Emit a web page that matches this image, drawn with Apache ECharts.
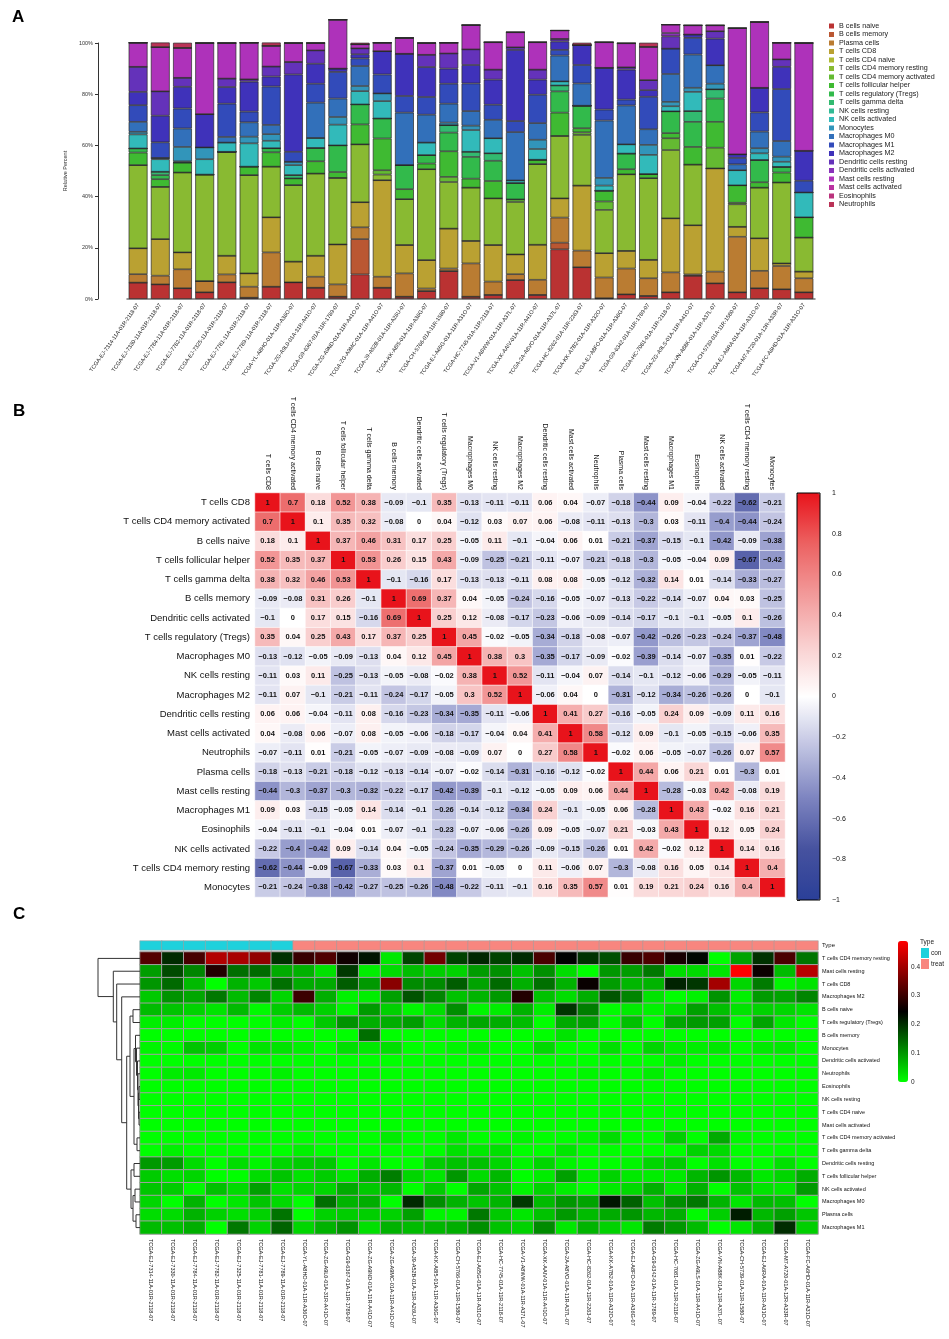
<!DOCTYPE html>
<html>
<head>
<meta charset="utf-8">
<script src="https://cdn.jsdelivr.net/npm/echarts@6/dist/echarts.min.js"></script>
<style>
html,body{margin:0;padding:0;background:#fff}
#main{width:949px;height:1339px}
</style>
</head>
<body>
<div id="main"></div>
<script>
// samples (same order in panel A and panel C)
var sampleIds = ['TCGA-EJ-7314-11A-01R-2118-07','TCGA-EJ-7330-11A-01R-2118-07','TCGA-EJ-7784-11A-01R-2118-07','TCGA-EJ-7782-11A-01R-2118-07','TCGA-EJ-7325-11A-01R-2118-07','TCGA-EJ-7781-11A-01R-2118-07','TCGA-EJ-7789-11A-01R-2118-07','TCGA-YL-A8HO-01A-11R-A36O-07','TCGA-ZG-A9L0-01A-31R-A41O-07','TCGA-G9-6367-01A-11R-1789-07','TCGA-ZG-A9ND-01A-11R-A41O-07','TCGA-ZG-A9MC-01A-11R-A41O-07','TCGA-J9-A52B-01A-11R-A26U-07','TCGA-KK-A8I5-01A-11R-A36G-07','TCGA-CH-5766-01A-11R-1580-07','TCGA-EJ-A65G-01A-11R-A31O-07','TCGA-HC-7745-01A-11R-2118-07','TCGA-V1-A8WW-01A-11R-A37L-07','TCGA-XK-AAIV-01A-11R-A41O-07','TCGA-2A-A8VO-01A-11R-A37L-07','TCGA-HC-8262-01A-11R-2263-07','TCGA-KK-A7B2-01A-11R-A32O-07','TCGA-EJ-A8FO-01A-11R-A36G-07','TCGA-G9-6342-01A-11R-1789-07','TCGA-HC-7081-01A-11R-2118-07','TCGA-ZG-A9LS-01A-11R-A41O-07','TCGA-VN-A88K-01A-11R-A37L-07','TCGA-CH-5739-01A-11R-1580-07','TCGA-EJ-A6RA-01A-11R-A31O-07','TCGA-M7-A720-01A-12R-A33R-07','TCGA-FC-A6HD-01A-11R-A31O-07'];
var sampleGroups = ['con','con','con','con','con','con','con','treat','treat','treat','treat','treat','treat','treat','treat','treat','treat','treat','treat','treat','treat','treat','treat','treat','treat','treat','treat','treat','treat','treat','treat'];
var groupNames = ['con','treat'];

var cellTypes = ['B cells naive','B cells memory','Plasma cells','T cells CD8','T cells CD4 naive','T cells CD4 memory resting','T cells CD4 memory activated','T cells follicular helper','T cells regulatory (Tregs)','T cells gamma delta','NK cells resting','NK cells activated','Monocytes','Macrophages M0','Macrophages M1','Macrophages M2','Dendritic cells resting','Dendritic cells activated','Mast cells resting','Mast cells activated','Eosinophils','Neutrophils'];

// relative percent per sample
var bCellsNaive = [6.4,5.7,4.2,2.6,6.5,0.5,4.8,6.5,4.4,0.9,9.6,4.4,0.9,3.1,10.9,0.9,1.6,7.4,1.6,19.4,12.4,0.3,1.8,1.2,2.6,9.1,6.1,2.6,4.2,3.8,2.6];
var bCellsMemory = [0,0,0,0,0,0,0,0,0,0,13.8,0,0,0,0,0,0,0,0,2.6,0,0,0,0,0,0,0,0,0,0,0];
var plasmaCells = [3.3,3.4,7.4,4.4,3.1,4.3,13.4,0,4.3,4.8,4.6,4.3,9.1,1.0,1.0,13.0,5.2,2.3,5.9,9.8,6.5,8.1,10.1,6.9,7.8,0.5,4.6,21.7,6.8,9.1,5.5];
var tCellsCD8 = [10.1,14.3,6.6,0,7.3,5.2,13.7,8.1,8.2,15.6,9.8,37.7,11.1,11.1,15.6,8.8,14.3,7.7,13.7,7.5,25.4,9.5,6.9,7.2,21.1,19.2,40.3,3.9,12.7,1.0,2.6];
var tCellsCD4Naive = [0,0,0,0,0,0,0,0,0,0,0,0,0,0,0,0,0,0,0,0,0,0,0,0,0,0,0,0,0,0,0];
var tCellsCD4MemResting = [32.5,20.4,31.2,41.6,40.6,38.4,19.8,29.9,32.1,26.0,22.6,2.2,17.9,35.5,18.2,20.8,18.2,20.5,31.5,24.4,19.8,16.9,29.9,31.9,26.7,23.7,0,8.8,19.8,31.6,13.3];
var tCellsCD4MemActivated = [0,0,0,0,0,0,0,0,0,0,0,1.7,0,0,2.0,0,0,1.0,0,0,1.0,3.3,0,0,4.6,0,8.1,0.6,0,0,0];
var tCellsFollicular = [4.9,3.0,3.9,0,0,3.3,5.6,2.6,4.8,2.3,7.8,12.4,3.9,2.2,10.0,3.5,6.8,0,1.7,9.1,1.6,4.2,2.0,1.6,2.0,6.9,10.1,6.8,2.1,3.9,7.9];
var tCellsTregs = [1.6,1.6,0,0,0,0,1.6,0,5.2,10.4,7.8,7.8,9.4,3.3,7.3,8.5,7.9,6.4,0,8.3,8.8,0,6.1,0,8.5,9.8,9.1,0,8.7,2.2,0];
var tCellsGammaDelta = [0,1.3,0,0,0,0,0,1.3,0,0,0,0,0,0,2.9,2.0,2.9,0,0,2.3,0,0,0,0,0,4.2,3.6,0,0,0,0];
var nkCellsResting = [0,0,0,0,0,0,0,0,0,0,0,0,0,0,0,0,0,0,0,0,0,0,0,0,0,0,0,0,0,0,0];
var nkCellsActivated = [5.5,4.9,0.5,6.0,3.6,9.1,2.9,3.9,3.9,8.1,5.2,6.8,0,4.9,0,8.5,5.9,1.0,4.2,1.6,0,2.0,3.6,7.5,2.0,7.5,0,5.9,2.6,2.0,9.7];
var monocytes = [1.0,0.5,5.6,4.6,0,2.6,2.6,1.3,0,3.0,2.0,3.0,0,0,1.0,1.7,0,0,3.6,0,0,3.0,0,3.9,1.7,1.6,2.2,0,2.0,2.0,0];
var macrophagesM0 = [3.9,0,7.2,0,2.2,5.6,3.6,0,13.8,7.2,7.8,0,20.5,10.9,7.4,5.7,7.2,18.9,6.5,10.1,8.7,22.4,15.2,6.1,10.9,13.0,7.2,2.3,6.5,6.1,0];
var macrophagesM1 = [6.5,6.1,7.8,0,13.0,4.2,15.0,3.9,7.4,10.4,3.0,7.4,6.5,6.9,7.8,10.8,5.9,4.3,11.1,2.2,7.2,4.3,2.3,12.7,9.9,6.5,0,2.5,7.5,20.3,4.6];
var macrophagesM2 = [5.2,10.4,8.5,13.0,6.5,11.7,3.9,30.2,7.8,1.3,1.6,9.1,16.5,11.7,5.9,7.2,9.8,27.8,5.9,3.3,7.8,16.3,11.7,2.6,0,1.3,10.4,1.4,9.6,8.7,11.7];
var dcResting = [9.8,9.5,3.5,0,3.3,0.9,3.9,4.9,5.2,0,2.3,0,0,4.8,5.9,6.1,3.9,1.0,3.9,1.0,0,0,0.9,3.9,4.8,0,2.9,0,0,2.9,0];
var dcActivated = [0,0,0,0,0,0,0,0,0,0,0,0,0,0,0,0,0,0,0,0,0,0,0,0,1.3,0,0,0,0,0,0];
var mastResting = [9.4,17.3,11.7,27.8,13.9,14.3,8.1,7.4,2.9,19.1,1.6,3.3,6.2,4.6,4.2,9.5,10.7,5.9,10.7,3.3,0,10.0,9.4,13.0,3.3,3.6,2.3,49.3,25.7,6.5,42.1];
var mastActivated = [0,0,0,0,0,0,0,0,0,0,0,0,0,0,0,0,0,0,0,0,0,0,0,0,0,0,0,0,0,0,0];
var eosinophils = [0,0,0,0,0,0,0,0,0,0,0,0,0,0,0,0,0,0,0,0,0,0,0,0,0,0,0,0,0,0,0];
var neutrophils = [0,1.8,2.0,0,0,0,1.3,0,0,0,0.6,0,0,0,0,0,0,0,0,0,0.9,0,0,1.6,0,0,0,0,0,0,0];

var percentTicks = [0,0.2,0.4,0.6,0.8,1];

// panel B correlation
var corrLabels = ['T cells CD8','T cells CD4 memory activated','B cells naive','T cells follicular helper','T cells gamma delta','B cells memory','Dendritic cells activated','T cells regulatory (Tregs)','Macrophages M0','NK cells resting','Macrophages M2','Dendritic cells resting','Mast cells activated','Neutrophils','Plasma cells','Mast cells resting','Macrophages M1','Eosinophils','NK cells activated','T cells CD4 memory resting','Monocytes'];
var corrMatrix = [
 [1,0.7,0.18,0.52,0.38,-0.09,-0.1,0.35,-0.13,-0.11,-0.11,0.06,0.04,-0.07,-0.18,-0.44,0.09,-0.04,-0.22,-0.62,-0.21],
 [0.7,1,0.1,0.35,0.32,-0.08,0,0.04,-0.12,0.03,0.07,0.06,-0.08,-0.11,-0.13,-0.3,0.03,-0.11,-0.4,-0.44,-0.24],
 [0.18,0.1,1,0.37,0.46,0.31,0.17,0.25,-0.05,0.11,-0.1,-0.04,0.06,0.01,-0.21,-0.37,-0.15,-0.1,-0.42,-0.09,-0.38],
 [0.52,0.35,0.37,1,0.53,0.26,0.15,0.43,-0.09,-0.25,-0.21,-0.11,-0.07,-0.21,-0.18,-0.3,-0.05,-0.04,0.09,-0.67,-0.42],
 [0.38,0.32,0.46,0.53,1,-0.1,-0.16,0.17,-0.13,-0.13,-0.11,0.08,0.08,-0.05,-0.12,-0.32,0.14,0.01,-0.14,-0.33,-0.27],
 [-0.09,-0.08,0.31,0.26,-0.1,1,0.69,0.37,0.04,-0.05,-0.24,-0.16,-0.05,-0.07,-0.13,-0.22,-0.14,-0.07,0.04,0.03,-0.25],
 [-0.1,0,0.17,0.15,-0.16,0.69,1,0.25,0.12,-0.08,-0.17,-0.23,-0.06,-0.09,-0.14,-0.17,-0.1,-0.1,-0.05,0.1,-0.26],
 [0.35,0.04,0.25,0.43,0.17,0.37,0.25,1,0.45,-0.02,-0.05,-0.34,-0.18,-0.08,-0.07,-0.42,-0.26,-0.23,-0.24,-0.37,-0.48],
 [-0.13,-0.12,-0.05,-0.09,-0.13,0.04,0.12,0.45,1,0.38,0.3,-0.35,-0.17,-0.09,-0.02,-0.39,-0.14,-0.07,-0.35,0.01,-0.22],
 [-0.11,0.03,0.11,-0.25,-0.13,-0.05,-0.08,-0.02,0.38,1,0.52,-0.11,-0.04,0.07,-0.14,-0.1,-0.12,-0.06,-0.29,-0.05,-0.11],
 [-0.11,0.07,-0.1,-0.21,-0.11,-0.24,-0.17,-0.05,0.3,0.52,1,-0.06,0.04,0,-0.31,-0.12,-0.34,-0.26,-0.26,0,-0.1],
 [0.06,0.06,-0.04,-0.11,0.08,-0.16,-0.23,-0.34,-0.35,-0.11,-0.06,1,0.41,0.27,-0.16,-0.05,0.24,0.09,-0.09,0.11,0.16],
 [0.04,-0.08,0.06,-0.07,0.08,-0.05,-0.06,-0.18,-0.17,-0.04,0.04,0.41,1,0.58,-0.12,0.09,-0.1,-0.05,-0.15,-0.06,0.35],
 [-0.07,-0.11,0.01,-0.21,-0.05,-0.07,-0.09,-0.08,-0.09,0.07,0,0.27,0.58,1,-0.02,0.06,-0.05,-0.07,-0.26,0.07,0.57],
 [-0.18,-0.13,-0.21,-0.18,-0.12,-0.13,-0.14,-0.07,-0.02,-0.14,-0.31,-0.16,-0.12,-0.02,1,0.44,0.06,0.21,0.01,-0.3,0.01],
 [-0.44,-0.3,-0.37,-0.3,-0.32,-0.22,-0.17,-0.42,-0.39,-0.1,-0.12,-0.05,0.09,0.06,0.44,1,-0.28,-0.03,0.42,-0.08,0.19],
 [0.09,0.03,-0.15,-0.05,0.14,-0.14,-0.1,-0.26,-0.14,-0.12,-0.34,0.24,-0.1,-0.05,0.06,-0.28,1,0.43,-0.02,0.16,0.21],
 [-0.04,-0.11,-0.1,-0.04,0.01,-0.07,-0.1,-0.23,-0.07,-0.06,-0.26,0.09,-0.05,-0.07,0.21,-0.03,0.43,1,0.12,0.05,0.24],
 [-0.22,-0.4,-0.42,0.09,-0.14,0.04,-0.05,-0.24,-0.35,-0.29,-0.26,-0.09,-0.15,-0.26,0.01,0.42,-0.02,0.12,1,0.14,0.16],
 [-0.62,-0.44,-0.09,-0.67,-0.33,0.03,0.1,-0.37,0.01,-0.05,0,0.11,-0.06,0.07,-0.3,-0.08,0.16,0.05,0.14,1,0.4],
 [-0.21,-0.24,-0.38,-0.42,-0.27,-0.25,-0.26,-0.48,-0.22,-0.11,-0.1,0.16,0.35,0.57,0.01,0.19,0.21,0.24,0.16,0.4,1]
];
var corrTicks = [-1,-0.8,-0.6,-0.4,-0.2,0,0.2,0.4,0.6,0.8,1];

// panel C row order and row clustering (hclust style merges, leaf = -row)
var heatRowOrder = ['T cells CD4 memory resting','Mast cells resting','T cells CD8','Macrophages M2','B cells naive','T cells regulatory (Tregs)','B cells memory','Monocytes','Dendritic cells activated','Neutrophils','Eosinophils','NK cells resting','T cells CD4 naive','Mast cells activated','T cells CD4 memory activated','T cells gamma delta','Dendritic cells resting','T cells follicular helper','NK cells activated','Macrophages M0','Plasma cells','Macrophages M1'];
var dendroMerges = [
 [-11,-12,1],[-13,-14,1],[1,2,1.5],[-10,3,2],[-9,4,2.5],[-8,5,3.5],[-7,6,4.5],
 [-15,-16,3],[7,8,6],[-5,-6,7],[10,9,10],
 [-17,-18,6],[-19,-20,5],[-21,-22,4],[13,14,7],[12,15,9],
 [11,16,13.3],[-4,17,18.3],[-3,18,23.3],[-2,19,26.7],[-1,20,42]
];
var heatTicks = [0,0.1,0.2,0.3,0.4];

var fractionTable = [bCellsNaive,bCellsMemory,plasmaCells,tCellsCD8,tCellsCD4Naive,tCellsCD4MemResting,tCellsCD4MemActivated,tCellsFollicular,tCellsTregs,tCellsGammaDelta,nkCellsResting,nkCellsActivated,monocytes,macrophagesM0,macrophagesM1,macrophagesM2,dcResting,dcActivated,mastResting,mastActivated,eosinophils,neutrophils];

function hsvHex(h, s, v) {
	var f = function (n) {
		var k = (n + h / 60) % 6;
		var c = v - v * s * Math.max(0, Math.min(k, 4 - k, 1));
		var x = Math.round(c * 255).toString(16);
		return x.length < 2 ? '0' + x : x;
	};
	return '#' + f(5) + f(3) + f(1);
}
var palette = cellTypes.map(function (n, i) { return hsvHex(i * 360 / 22, 0.73, 0.73); });

function fmtCorr(v) {
	return (v < 0 ? '\u2212' : '') + Math.abs(v);
}

var myChart = echarts.init(document.getElementById('main'), null, {renderer: 'canvas'});
var font = 'Liberation Sans, Arial, sans-serif';

var series = [];
cellTypes.forEach(function (name, i) {
	series.push({
		type: 'bar', name: name, stack: 'ciber', xAxisIndex: 0, yAxisIndex: 0,
		data: fractionTable[i].map(function (v) { return v / 100; }),
		barCategoryGap: '15%', clip: false,
		itemStyle: {color: palette[i], borderColor: '#2a2a2a', borderWidth: 0.7},
		emphasis: {disabled: true}
	});
});

var corrData = [];
corrMatrix.forEach(function (row, r) {
	row.forEach(function (v, c) { corrData.push([c, r, v]); });
});
series.push({
	type: 'heatmap', xAxisIndex: 1, yAxisIndex: 1, data: corrData,
	label: {show: true, fontSize: 7.5, fontWeight: 'bold', color: '#111', formatter: function (p) { return fmtCorr(p.value[2]); }},
	itemStyle: {borderColor: '#fff', borderWidth: 0.6},
	emphasis: {disabled: true}
});

series.push({
	type: 'heatmap', xAxisIndex: 3, yAxisIndex: 3,
	data: sampleGroups.map(function (g, i) { return [i, 0, groupNames.indexOf(g)]; }),
	itemStyle: {borderColor: '#a0a0a0', borderWidth: 0.6},
	emphasis: {disabled: true}
});

var heatData = [];
heatRowOrder.forEach(function (name, r) {
	var arr = fractionTable[cellTypes.indexOf(name)];
	arr.forEach(function (v, c) { heatData.push([c, r, v / 100]); });
});
series.push({
	type: 'heatmap', xAxisIndex: 4, yAxisIndex: 4, data: heatData,
	itemStyle: {borderColor: '#a0a0a0', borderWidth: 1},
	emphasis: {disabled: true}
});

// dendrogram segments
var nodes = [];
var segs = [];
function nodePos(id) { return id < 0 ? {x: 0, y: -id - 0.5} : nodes[id - 1]; }
dendroMerges.forEach(function (m) {
	var a = nodePos(m[0]), b = nodePos(m[1]);
	segs.push({coords: [[a.x, a.y], [m[2], a.y], [m[2], b.y], [b.x, b.y]]});
	nodes.push({x: m[2], y: (a.y + b.y) / 2});
});
series.push({
	type: 'lines', coordinateSystem: 'cartesian2d', xAxisIndex: 5, yAxisIndex: 5,
	polyline: true, silent: true, data: segs,
	lineStyle: {color: '#333', width: 1, opacity: 1}
});

var hidden = {show: false};
var option = {
	animation: false,
	textStyle: {fontFamily: font},
	graphic: [
		{type: 'text', left: 12, top: 9, style: {text: 'A', font: 'bold 17px ' + font, fill: '#000'}},
		{type: 'text', left: 13, top: 403, style: {text: 'B', font: 'bold 17px ' + font, fill: '#000'}},
		{type: 'text', left: 13, top: 906, style: {text: 'C', font: 'bold 17px ' + font, fill: '#000'}},
		{type: 'text', left: 920, top: 939, style: {text: 'Type', font: '6.5px ' + font, fill: '#222'}}
	],
	legend: {
		orient: 'vertical', left: 829, top: 22, padding: 0,
		itemWidth: 5, itemHeight: 5, itemGap: 0.5, icon: 'rect', selectedMode: false,
		itemStyle: {borderWidth: 0},
		textStyle: {fontSize: 7.2, lineHeight: 8, color: '#222'},
		data: cellTypes
	},
	grid: [
		{left: 127, top: 43, width: 688, height: 256},
		{left: 255, top: 493, width: 530, height: 404},
		{left: 797, top: 493, width: 23, height: 407, show: true, borderColor: '#000', borderWidth: 1, backgroundColor: 'transparent', z: 10},
		{left: 140, top: 941, width: 678, height: 9},
		{left: 140, top: 952, width: 678, height: 282},
		{left: 97, top: 952, width: 43, height: 282},
		{left: 898, top: 941, width: 10, height: 141}
	],
	xAxis: [
		{gridIndex: 0, type: 'category', data: sampleIds,
			axisLine: {lineStyle: {color: '#777', width: 1.5}},
			axisTick: {alignWithLabel: true, length: 3, lineStyle: {color: '#777'}},
			axisLabel: {rotate: 55, fontSize: 5.5, interval: 0, margin: 5, color: '#222'}},
		{gridIndex: 1, type: 'category', data: corrLabels, position: 'top',
			axisLine: hidden, axisTick: hidden, splitLine: hidden,
			axisLabel: {rotate: 90, fontSize: 7, interval: 0, margin: 3, color: '#111'}},
		{gridIndex: 2, type: 'value', show: false, min: 0, max: 1},
		{gridIndex: 3, type: 'category', data: sampleIds, show: false},
		{gridIndex: 4, type: 'category', data: sampleIds, position: 'bottom',
			axisLine: hidden, axisTick: hidden,
			axisLabel: {rotate: -90, fontSize: 5.5, interval: 0, margin: 5, color: '#111'}},
		{gridIndex: 5, type: 'value', min: 0, max: 43, inverse: true, show: false},
		{gridIndex: 6, type: 'value', show: false, min: 0, max: 1}
	],
	yAxis: [
		{gridIndex: 0, type: 'value', min: 0, max: 1, interval: 0.2, offset: 29,
			axisLine: {show: true, lineStyle: {color: '#333'}},
			axisTick: {show: true, length: 3, lineStyle: {color: '#333'}},
			splitLine: hidden,
			axisLabel: {fontSize: 5.5, margin: 5, color: '#333', formatter: function (v) { return Math.round(v * 100) + '%'; }},
			name: 'Relative Percent', nameLocation: 'middle', nameGap: 22, nameTextStyle: {fontSize: 5.5, color: '#333'}},
		{gridIndex: 1, type: 'category', data: corrLabels, inverse: true,
			axisLine: hidden, axisTick: hidden, splitLine: hidden,
			axisLabel: {fontSize: 9.5, margin: 5, color: '#111'}},
		{gridIndex: 2, type: 'value', min: -1, max: 1, interval: 0.2, position: 'right',
			axisLine: hidden, splitLine: hidden,
			axisTick: {show: true, length: 3, lineStyle: {color: '#333'}},
			axisLabel: {fontSize: 7, margin: 12, color: '#111', formatter: function (v) { return fmtCorr(Math.round(v * 10) / 10); }}},
		{gridIndex: 3, type: 'category', data: ['Type'], position: 'right',
			axisLine: hidden, axisTick: hidden,
			axisLabel: {fontSize: 6, margin: 4, color: '#111'}},
		{gridIndex: 4, type: 'category', data: heatRowOrder, inverse: true, position: 'right',
			axisLine: hidden, axisTick: hidden,
			axisLabel: {fontSize: 5.5, margin: 4, color: '#111'}},
		{gridIndex: 5, type: 'value', min: 0, max: 22, inverse: true, show: false},
		{gridIndex: 6, type: 'value', min: 0, max: 0.49, interval: 0.1, position: 'right',
			axisLine: hidden, axisTick: hidden, splitLine: hidden,
			axisLabel: {fontSize: 6.5, margin: 3, color: '#222', showMaxLabel: false,
				formatter: function (v) { return heatTicks.indexOf(Math.round(v * 10) / 10) >= 0 ? String(Math.round(v * 10) / 10) : ''; }}}
	],
	visualMap: [
		{type: 'continuous', seriesIndex: 22, min: -1, max: 1, calculable: false, padding: 0,
			left: 797, top: 493, itemWidth: 23, itemHeight: 407, orient: 'vertical',
			inRange: {color: ['#2b3f98', '#46529f', '#7d84c0', '#bfc2e1', '#ffffff', '#f9cfcf', '#f29a9a', '#ec6262', '#e8131b']}},
		{type: 'piecewise', seriesIndex: 23, padding: 0, left: 921, top: 948,
			itemWidth: 8, itemHeight: 10, itemGap: 1, itemSymbol: 'rect', textGap: 2,
			align: 'left', inverse: true,
			textStyle: {fontSize: 6.5, color: '#222'}, selectedMode: false,
			pieces: [{value: 0, label: 'con', color: '#1fd1dc'}, {value: 1, label: 'treat', color: '#f8867f'}]},
		{type: 'continuous', seriesIndex: 24, min: 0, max: 0.49, calculable: false, padding: 0,
			left: 898, top: 941, itemWidth: 10, itemHeight: 141, orient: 'vertical',
			inRange: {color: ['#00ff00', '#000000', '#ff0000']}}
	],
	series: series
};

option && myChart.setOption(option);
</script>
</body>
</html>
